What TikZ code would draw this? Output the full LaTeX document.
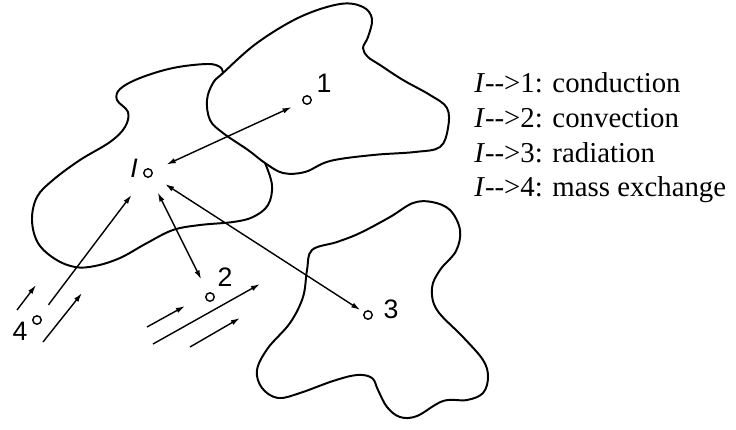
\documentclass[tikz,border=0pt]{standalone}
\usepackage{fontspec}
\setmainfont{Liberation Serif}
\newfontfamily\ptfont{Liberation Sans}
\usetikzlibrary{arrows.meta}

\begin{document}
\begin{tikzpicture}[x=0.025cm, y=-0.025cm, >={Latex[length=6.5pt,width=3.8pt]},
    blob/.style={line width=1.4pt, line join=round},
    pt/.style={circle, draw, line width=1pt, inner sep=0pt, minimum size=6pt},
    ptlabel/.style={font=\ptfont\fontsize{19}{19}\selectfont, inner sep=0pt},
    link/.style={line width=1pt},
    flow/.style={->, line width=1pt},
    legend/.style={anchor=base west, inner sep=0pt, font=\fontsize{20.5}{20.5}\selectfont}]
        \useasboundingbox (0,0) rectangle (736,429);

        % Body 1 (upper right)
        \draw[blob] plot[smooth cycle, tension=0.6] coordinates {
            (223,73) (257,43) (300,17) (340,4) (363,7) (372,19) (368,37)
            (363,48) (368,57) (380,65) (403,80) (430,95) (447,108) (448,128)
            (440,147) (415,152) (373,155) (330,161) (305,172) (283,173)
            (265,163) (248,150) (223,133) (210,120) (207,100) (213,83)};

        % Body I (left), its right side runs along body 1
        \draw[blob] plot[smooth, tension=0.6] coordinates {
            (265,163) (272,185) (268,205) (253,217) (233,222) (200,225)
            (173,230) (147,243) (120,258) (95,266) (75,267) (55,259)
            (38,243) (32,220) (37,197) (53,180) (80,160) (110,142)
            (125,127) (128,112) (117,100) (120,89) (140,78) (173,68)
            (207,64) (220,67) (223,73)};

        % Body 3 (lower right)
        \draw[blob] plot[smooth cycle, tension=0.6] coordinates {
            (312,250) (337,242) (360,233) (390,217) (413,203) (432,202)
            (450,210) (460,230) (456,251) (440,270) (432,288) (437,310)
            (463,337) (483,360) (488,377) (483,393) (467,400) (443,401)
            (417,416) (400,417) (387,407) (378,390) (372,378) (357,375)
            (333,381) (300,393) (278,398) (262,388) (257,370) (268,348)
            (290,323) (303,297) (307,270)};

        % Points and their labels
        \node[pt] (I) at (148,173) {};
        \node[pt] (p1) at (307,100) {};
        \node[pt] (p2) at (210,297) {};
        \node[pt] (p3) at (368,315) {};
        \node[pt] (p4) at (37,320) {};
        \node[ptlabel] (lI) at (134,168) {\itshape I};
        \node[ptlabel] (l1) at (324,83) {1};
        \node[ptlabel] (l2) at (225,277) {2};
        \node[ptlabel] (l3) at (391,309) {3};
        \node[ptlabel] (l4) at (20,331) {4};

        % Exchange between I and the other points
        \draw[link, <->, shorten <=11pt, shorten >=8.5pt] (I) -- (p1);
        \draw[link, <->, shorten <=12pt, shorten >=10.5pt] (I) -- (p2);
        \draw[link, <->, shorten <=11pt, shorten >=3pt] (I) -- (p3);
        \draw[link, ->, shorten <=10pt, shorten >=16pt] (p4) -- (I);

        % Streams of fluid
        \draw[flow] (17,310) -- (36,285);
        \draw[flow] (43,342) -- (82,293);
        \draw[flow] (147,327) -- (185,306);
        \draw[flow] (153,344) -- (260,284);
        \draw[flow] (190,347) -- (240,318);

        % Legend
        \node[legend] (leg1) at (474,92) {\textit{I}-{}-{}>1: conduction};
        \node[legend] (leg2) at (474,127) {\textit{I}-{}-{}>2: convection};
        \node[legend] (leg3) at (474,162) {\textit{I}-{}-{}>3: radiation};
        \node[legend] (leg4) at (474,196) {\textit{I}-{}-{}>4: mass exchange};
    \end{tikzpicture}
\end{document}
